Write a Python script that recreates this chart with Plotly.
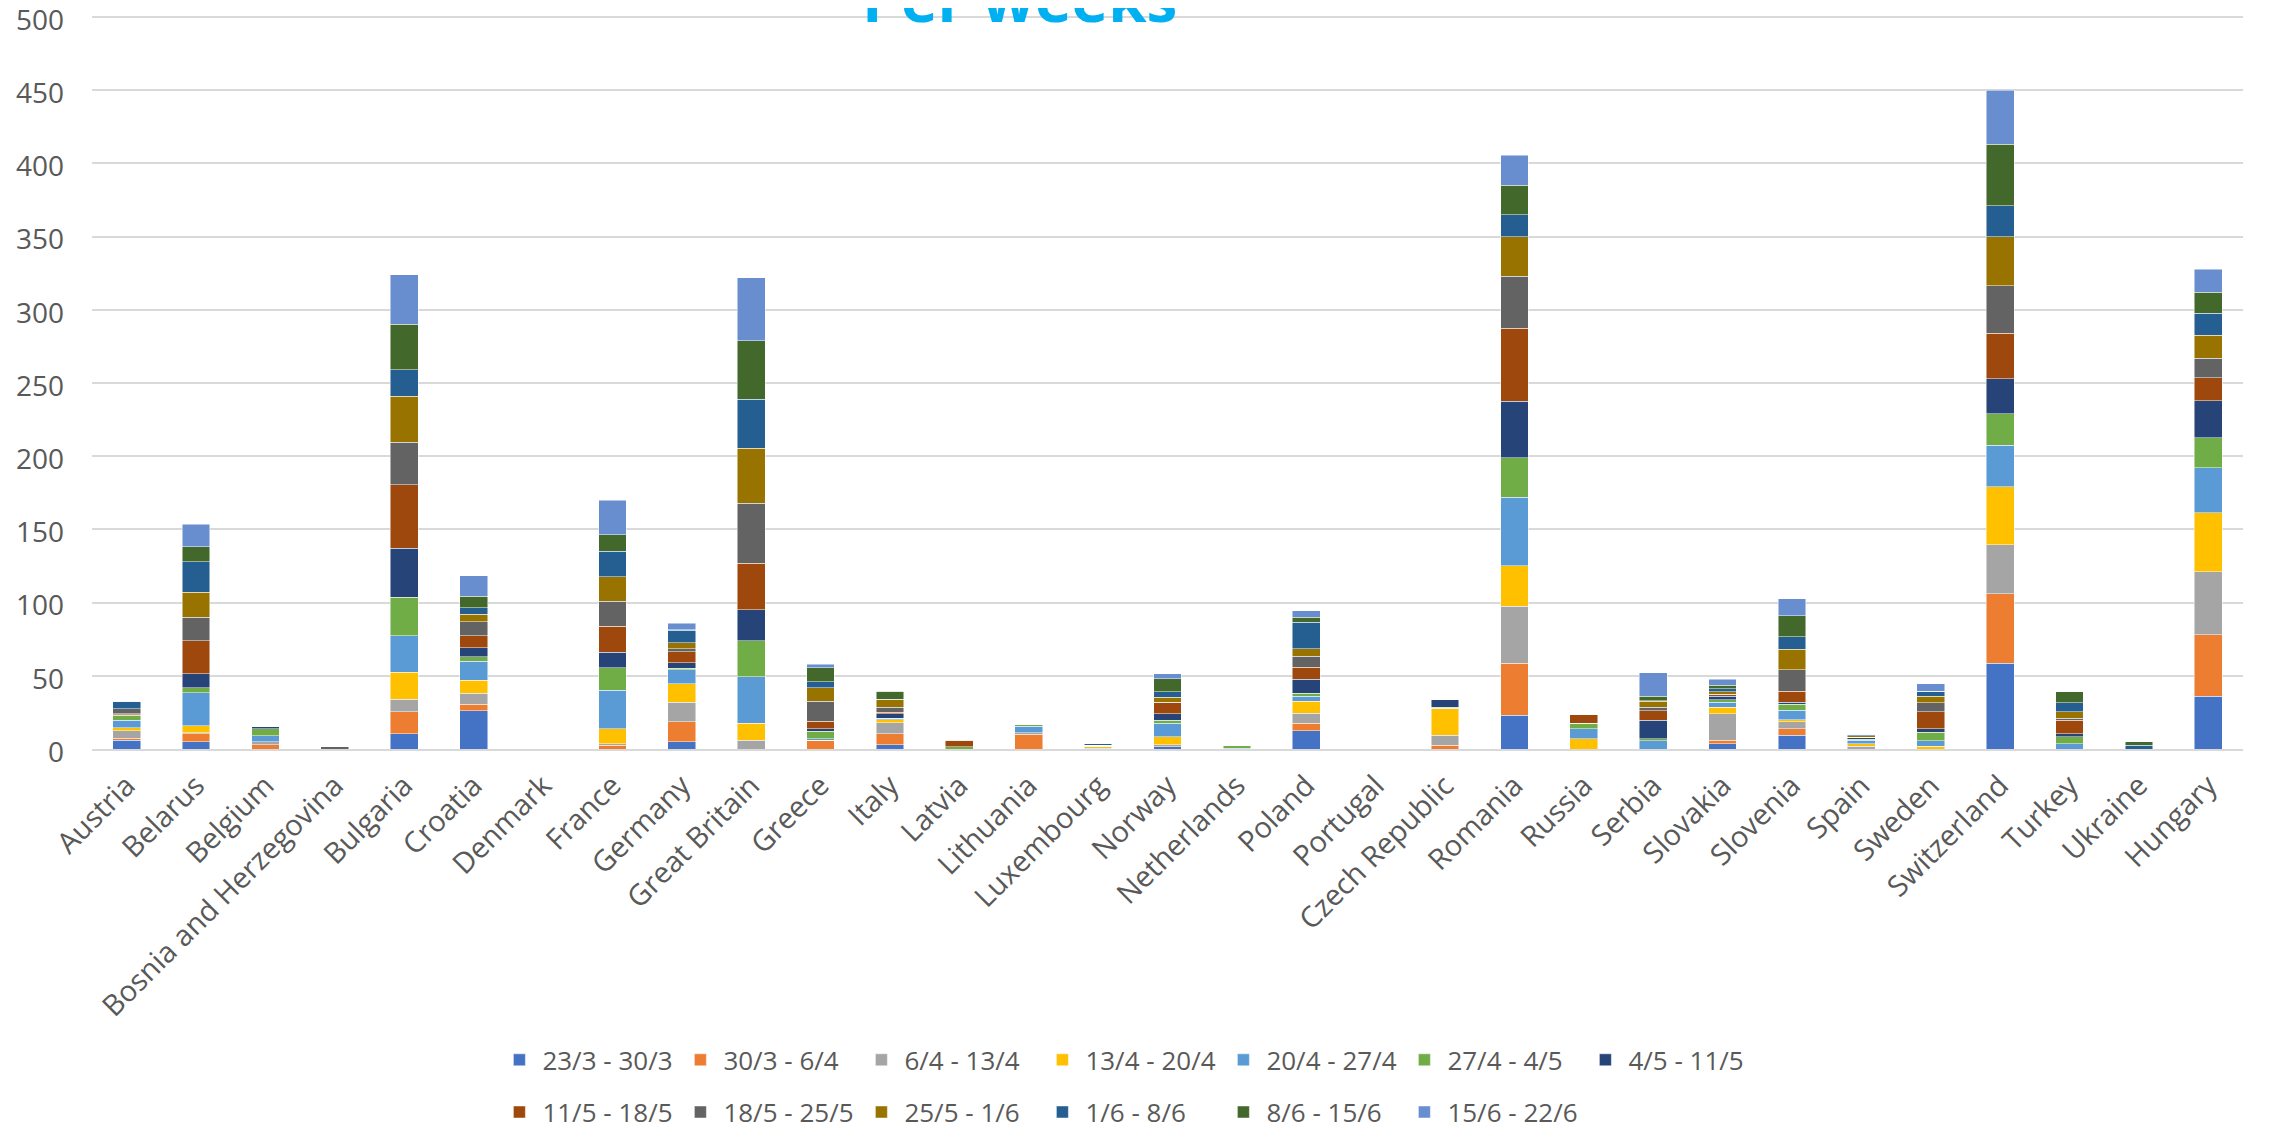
import plotly.graph_objects as go

categories = ["Austria", "Belarus", "Belgium", "Bosnia and Herzegovina", "Bulgaria", "Croatia",
              "Denmark", "France", "Germany", "Great Britain", "Greece", "Italy", "Latvia",
              "Lithuania", "Luxembourg", "Norway", "Netherlands", "Poland", "Portugal",
              "Czech Republic", "Romania", "Russia", "Serbia", "Slovakia", "Slovenia", "Spain",
              "Sweden", "Switzerland", "Turkey", "Ukraine", "Hungary"]

week_labels = ["23/3 - 30/3", "30/3 - 6/4", "6/4 - 13/4", "13/4 - 20/4", "20/4 - 27/4",
               "27/4 - 4/5", "4/5 - 11/5", "11/5 - 18/5", "18/5 - 25/5", "25/5 - 1/6",
               "1/6 - 8/6", "8/6 - 15/6", "15/6 - 22/6"]

w_23_3 = [6, 5, 0, 0, 10.5, 26, 0, 0, 5, 0, 0, 3, 0, 0, 0, 1.5, 0, 12.5, 0, 0, 23, 0, 0, 3.5, 9.5, 0, 0, 58.5, 0, 0, 36]
w_30_3 = [1.5, 5.5, 3, 0, 15, 4.5, 0, 2.5, 13.5, 0, 5.5, 7.5, 0, 10, 0, 0, 0, 5, 0, 2.5, 35.5, 0, 0, 2.5, 4.5, 0, 0, 47.5, 0, 0, 42]
w_6_4 = [5, 0.5, 2, 0, 8.5, 7.5, 0, 1, 13.5, 6, 0.5, 7.5, 0, 1, 0.5, 1.5, 0, 7, 0, 7, 39, 0, 0, 18, 4.5, 2, 0, 33.5, 0, 0, 43]
w_13_4 = [2, 5, 0, 0, 18.5, 9, 0, 10.5, 12.5, 11.5, 0, 2, 0, 0, 1, 5.5, 0, 8, 0, 18, 27.5, 7, 0, 4.5, 1.5, 1.5, 2, 39.5, 0, 0, 40.5]
w_20_4 = [5, 22.5, 4, 0, 25, 13, 0, 26, 9.5, 32, 1, 0.5, 0, 4.5, 0.5, 9, 0.5, 3.5, 0, 0.5, 47, 7, 5.5, 3.5, 6.5, 2.5, 3.5, 28.5, 3.5, 0, 30.5]
w_27_4 = [3.5, 3.5, 5, 0, 26, 3, 0, 15.5, 1, 24.5, 5, 0.5, 1.5, 1.5, 0, 2, 2, 2, 0, 0.5, 27, 3.5, 1.5, 1.5, 4, 0.5, 6, 21.5, 5, 0, 20.5]
w_4_5 = [0.5, 9.5, 1.5, 0, 33.5, 6, 0, 10.5, 4, 21, 2, 3, 0, 0, 0.5, 4.5, 0, 9.5, 0, 5, 38.5, 0, 12.5, 2.5, 1.5, 1.5, 2.5, 24, 2, 0, 25.5]
w_11_5 = [0.5, 22.5, 0, 0, 43.5, 8.5, 0, 18, 7.5, 32, 5, 1, 4, 0, 0, 7.5, 0, 8.5, 0, 0, 50, 6, 6.5, 1, 7.5, 0, 11.5, 31, 9, 0, 15.5]
w_18_5 = [3.5, 16, 0, 2, 29, 9.5, 0, 17, 2, 41, 13.5, 3.5, 0, 0, 0, 0.5, 0, 7.5, 0, 0, 35.5, 0, 2.5, 0.5, 14.5, 0, 6, 32.5, 1.5, 0, 13.5]
w_25_5 = [0, 17, 0, 0, 31.5, 5, 0, 16.5, 4, 37.5, 9.5, 5, 0, 0, 0, 3.5, 0, 5, 0, 0, 27, 0, 4, 1.5, 14, 1, 4.5, 33.5, 4.5, 0, 15.5]
w_1_6 = [5, 21, 0, 0, 18, 4.5, 0, 17.5, 8.5, 33.5, 4, 0.5, 0, 0, 1, 3.5, 0, 18, 0, 0, 15, 0, 0.5, 2, 8.5, 1, 3.5, 21, 6, 2.5, 15]
w_8_6 = [0, 10, 0.5, 0, 31, 8, 0, 11.5, 0.5, 40, 9.5, 5.5, 0.5, 0, 0, 9, 0, 3.5, 0, 0, 20, 0, 3, 2.5, 14.5, 0, 0, 42, 7.5, 2.5, 14.5]
w_15_6 = [0, 15.5, 0, 0, 34, 14, 0, 23.5, 4.5, 43, 2.5, 0, 0, 0, 0, 3.5, 0, 4.5, 0, 0, 20.5, 0, 16, 4, 11.5, 0, 5, 37, 0, 0, 15.5]

series = [w_23_3, w_30_3, w_6_4, w_13_4, w_20_4, w_27_4, w_4_5,
          w_11_5, w_18_5, w_25_5, w_1_6, w_8_6, w_15_6]

colors = ["#4472C4", "#ED7D31", "#A5A5A5", "#FFC000", "#5B9BD5", "#70AD47", "#264478",
          "#9E480E", "#636363", "#997300", "#255E91", "#43682B", "#698ED0"]

FONT = "Open Sans, Liberation Sans, Arial, sans-serif"

fig = go.Figure()
for i, (name, vals, col) in enumerate(zip(week_labels, series, colors)):
    fig.add_trace(go.Bar(
        x=categories, y=vals, name=name,
        marker=dict(color=col, line=dict(color="rgba(255,255,255,0.6)", width=0.8)),
        legend="legend" if i < 7 else "legend2",
    ))

legend_common = dict(
    orientation="h", xanchor="left", yanchor="middle", x=0.188,
    font=dict(family=FONT, size=26, color="#595959"),
    entrywidth=130, entrywidthmode="pixels", traceorder="normal",
    bgcolor="rgba(0,0,0,0)", itemwidth=36,
)

fig.update_layout(
    barmode="stack",
    bargap=0.6,
    width=2253, height=1123,
    margin=dict(l=84, r=18, t=6, b=382, autoexpand=False),
    paper_bgcolor="white", plot_bgcolor="white",
    font=dict(family=FONT, color="#595959"),
    showlegend=True,
    legend=dict(y=-0.423, **legend_common),
    legend2=dict(y=-0.494, **legend_common),
    xaxis=dict(
        tickangle=-45, tickfont=dict(family=FONT, size=29, color="#595959"),
        showline=True, linecolor="#D9D9D9", linewidth=2, ticks="",
        showgrid=False, ticklabelstandoff=6,
    ),
    yaxis=dict(
        range=[0, 502], tickvals=[0, 50, 100, 150, 200, 250, 300, 350, 400, 450, 500],
        tickfont=dict(family=FONT, size=28, color="#595959"),
        showgrid=True, gridcolor="#D9D9D9", gridwidth=2, zeroline=False,
        showline=False, ticks="", ticklabelstandoff=27, ticklabeloverflow="allow",
        ticklabelshift=3,
    ),
    annotations=[dict(
        text="<b>Per weeks</b>", xref="paper", yref="paper", x=0.4314, y=1,
        xanchor="center", yanchor="bottom", yshift=-28, showarrow=False,
        font=dict(family=FONT, size=62, color="#00B0F0"),
    )],
)

fig.write_html("out.html")
